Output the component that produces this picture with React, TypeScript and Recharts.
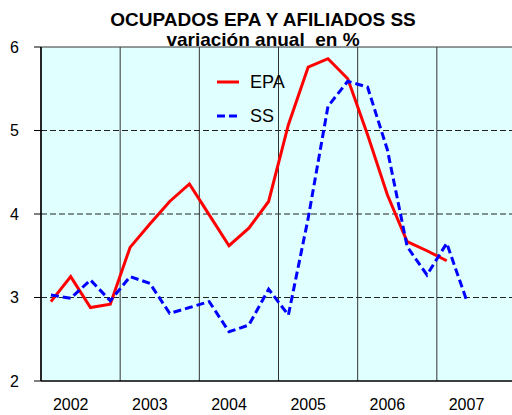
import React from "react"
import { CartesianGrid, Line, LineChart, ReferenceLine, XAxis, YAxis } from "recharts"

const years = ["2002", "2003", "2004", "2005", "2006", "2007"]

// variación anual (%) por trimestre, desde 2002-I
const epa = [2.95, 3.25, 2.88, 2.92, 3.6, 3.88, 4.15, 4.36, 3.99, 3.62, 3.83, 4.15, 5.07, 5.76, 5.86, 5.62, 4.95, 4.23, 3.67, 3.56, 3.44]
const ss = [3.03, 2.99, 3.21, 2.96, 3.25, 3.17, 2.81, 2.88, 2.95, 2.59, 2.67, 3.1, 2.79, 3.95, 5.29, 5.59, 5.52, 4.77, 3.61, 3.27, 3.65, 2.97]

const yTicks = [2, 3, 4, 5, 6]

const data = ss.map((v, i) => ({
  q: i + 0.5,
  EPA: i < epa.length ? epa[i] : null,
  SS: v,
}))

const nQuarters = years.length * 4
const yearBounds = years.map((_, k) => k * 4).concat([nQuarters])
const yearTicks = years.map((_, k) => k * 4 + 1.5)

const font = "'Liberation Sans', Arial, sans-serif"

function LegendBox() {
  return (
    <div style={{ position: "absolute", left: 217, top: 65, zIndex: 2, fontFamily: font, fontSize: 18, color: "#000" }}>
      <div style={{ display: "flex", alignItems: "center", height: 34 }}>
        <svg width={33} height={10}>
          <line x1={0} y1={5} x2={22} y2={5} stroke="#ff0000" strokeWidth={3} />
        </svg>
        <span>EPA</span>
      </div>
      <div style={{ display: "flex", alignItems: "center", height: 34 }}>
        <svg width={33} height={10}>
          <line x1={0} y1={5} x2={20} y2={5} stroke="#0000ff" strokeWidth={3} strokeDasharray="8 4" />
        </svg>
        <span>SS</span>
      </div>
    </div>
  )
}

export default function App() {
  return (
    <div style={{ position: "absolute", left: 0, top: 0, width: 512, height: 415, overflow: "hidden", background: "#fff", fontFamily: font }}>
      <div style={{ position: "absolute", left: 0, top: 10, width: 526, textAlign: "center", fontSize: 19, lineHeight: "19px", fontWeight: "bold", zIndex: 2 }}>
        OCUPADOS EPA Y AFILIADOS SS
      </div>
      <div style={{ position: "absolute", left: 0, top: 30, width: 526, textAlign: "center", fontSize: 19, lineHeight: "19px", fontWeight: "bold", whiteSpace: "pre", zIndex: 2 }}>
        {"variación anual  en %"}
      </div>
      <LegendBox />
      <LineChart width={520} height={415} data={data} margin={{ top: 47, right: 4, bottom: 0, left: 0 }}>
        <CartesianGrid fill="#e0ffff" vertical={false} horizontal={false} />
        {[3, 4, 5].map((y) => (
          <ReferenceLine key={y} y={y} stroke="#222" strokeDasharray="6 3" />
        ))}
        {yearBounds.map((x) => (
          <ReferenceLine key={x} x={x} stroke="#333" />
        ))}
        <ReferenceLine y={6} stroke="#333" />
        <XAxis
          type="number"
          dataKey="q"
          domain={[0, nQuarters]}
          ticks={yearTicks}
          tickFormatter={(v) => years[Math.floor(v / 4)]}
          tickLine={false}
          axisLine={{ stroke: "#000", strokeWidth: 1.5 }}
          tick={{ fill: "#000", fontSize: 16 }}
          tickMargin={12}
          height={34}
          allowDataOverflow
        />
        <YAxis
          domain={[2, 6]}
          ticks={yTicks}
          width={41}
          tickSize={7}
          tickMargin={15}
          axisLine={{ stroke: "#000", strokeWidth: 1.5 }}
          tickLine={{ stroke: "#000" }}
          tick={{ fill: "#000", fontSize: 16 }}
        />
        <Line
          dataKey="EPA"
          stroke="#ff0000"
          strokeWidth={3}
          dot={false}
          isAnimationActive={false}
        />
        <Line
          dataKey="SS"
          stroke="#0000ff"
          strokeWidth={3}
          strokeDasharray="8 4"
          dot={false}
          isAnimationActive={false}
        />
      </LineChart>
    </div>
  )
}
